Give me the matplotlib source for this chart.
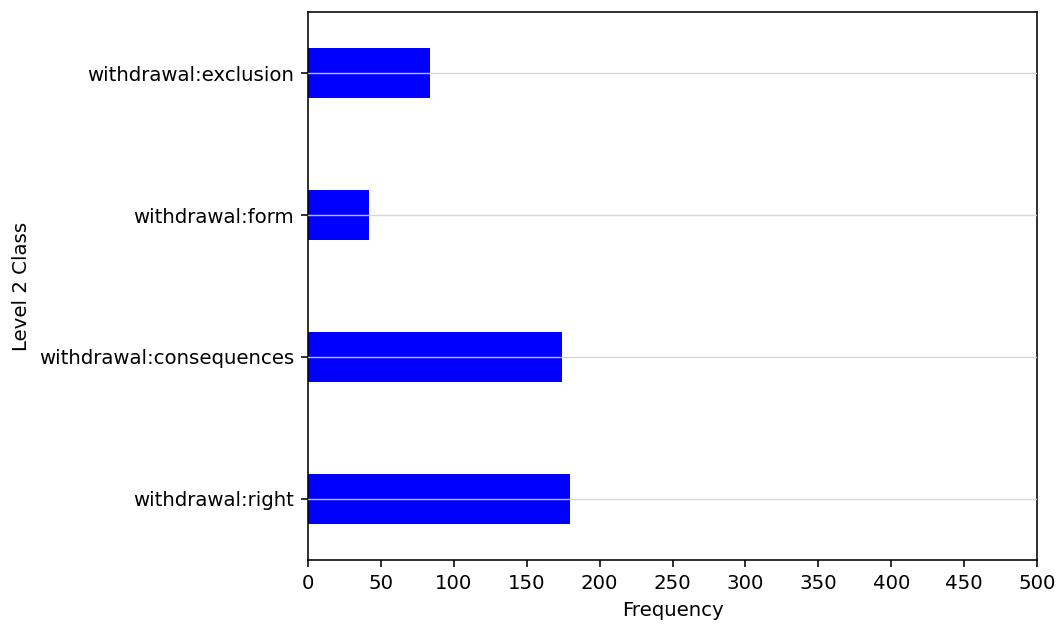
import matplotlib
matplotlib.use("Agg")
import matplotlib.pyplot as plt

# Level 2 class frequencies
classes = ["withdrawal:right", "withdrawal:consequences", "withdrawal:form", "withdrawal:exclusion"]
frequencies = [180, 174, 42, 84]

DPI = 142
fig = plt.figure(figsize=(1064 / DPI, 625 / DPI), dpi=DPI)
ax = fig.add_axes([308 / 1064, 1 - 560 / 625, (1037 - 308) / 1064, (560 - 12) / 625])

ax.barh(classes, frequencies, height=0.35, color="blue")
ax.set_xlim(0, 500)
ax.set_ylim(-0.43, 3.43)
ax.set_xticks(range(0, 501, 50))
ax.grid(axis="y", color="lightgray", alpha=0.9, linewidth=0.7)
ax.set_axisbelow(False)
ax.set_xlabel("Frequency")
ax.set_ylabel("Level 2 Class")

fig.savefig("out.png", dpi=DPI)
